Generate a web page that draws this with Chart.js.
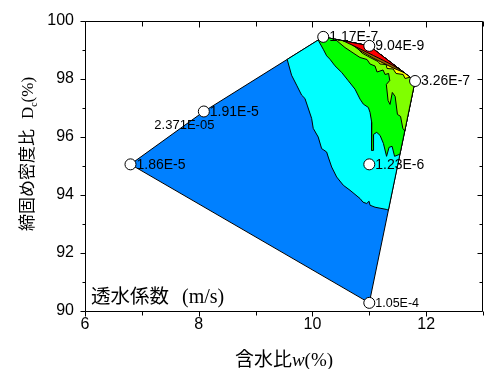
<!DOCTYPE html>
<html>
<head>
<meta charset="utf-8">
<script src="https://cdn.jsdelivr.net/npm/chart.js@4/dist/chart.umd.min.js"></script>
<style>
  html, body { margin: 0; padding: 0; background: #fff; }
</style>
</head>
<body>
<canvas id="c" width="492" height="369"></canvas>
<script>
// Test specimens: water content w (%), compaction ratio Dc (%), permeability k (m/s)
const sampleW  = [6.80, 8.09, 10.19, 11.00, 11.805, 11.00, 11.00];
const sampleDc = [95.05, 96.87, 99.44, 99.13, 97.92, 95.05, 90.28];
const sampleK  = ['1.86E-5', '1.91E-5', '1.17E-7', '9.04E-9', '3.26E-7', '1.23E-6', '1.05E-4'];

// Contour bands of k, each a closed outline in (w, Dc)
const bandBlueW  = [6.80, 8.09, 10.19, 11.00, 11.805, 11.00, 6.80];
const bandBlueDc = [95.05, 96.87, 99.44, 99.13, 97.92, 90.28, 95.05];

const bandCyanW  = [9.556, 9.633, 9.722, 9.810, 9.868, 9.908, 9.986, 10.014, 10.102, 10.162, 10.190, 10.250, 10.278, 10.338, 10.426, 10.543, 10.661, 10.837, 10.890, 10.955, 10.996, 11.013, 11.101, 11.308, 11.336, 11.805, 11.00, 10.19, 9.556];
const bandCyanDc = [98.664, 98.120, 97.777, 97.433, 97.320, 97.089, 96.632, 96.289, 95.990, 95.591, 95.557, 95.474, 95.302, 94.959, 94.615, 94.330, 94.158, 93.873, 93.746, 93.701, 93.780, 93.643, 93.574, 93.495, 93.47, 97.92, 99.13, 99.44, 98.664];

const bandGreenW  = [10.10, 10.190, 10.250, 10.308, 10.396, 10.515, 10.631, 10.749, 10.837, 10.895, 10.983, 11.013, 11.043, 11.040, 11.040, 11.066, 11.075, 11.131, 11.189, 11.248, 11.304, 11.348, 11.401, 11.445, 11.539, 11.805, 11.00, 10.19, 10.10];
const bandGreenDc = [99.33, 99.014, 98.787, 98.670, 98.443, 98.213, 97.928, 97.639, 97.296, 97.124, 97.010, 96.838, 96.495, 96.22, 95.533, 95.53, 96.082, 96.151, 96.048, 95.773, 95.326, 95.636, 95.670, 95.326, 95.40, 97.92, 99.13, 99.44, 99.33];

const bandLimeW  = [10.396, 10.573, 10.749, 10.837, 10.960, 11.013, 11.101, 11.137, 11.242, 11.278, 11.340, 11.360, 11.300, 11.330, 11.365, 11.405, 11.455, 11.495, 11.550, 11.590, 11.624, 11.805, 11.00, 10.396];
const bandLimeDc = [99.361, 99.072, 98.842, 98.729, 98.660, 98.505, 98.436, 98.230, 98.299, 98.144, 98.179, 97.938, 97.801, 97.251, 97.113, 97.526, 97.388, 96.770, 96.701, 96.289, 96.2, 97.92, 99.13, 99.361];

const bandYellowW  = [10.696, 10.872, 11.013, 11.154, 11.189, 11.295, 11.313, 11.419, 11.471, 11.595, 11.630, 11.718, 11.00, 10.696];
const bandYellowDc = [99.246, 98.883, 98.729, 98.591, 98.505, 98.488, 98.351, 98.333, 98.179, 98.144, 98.007, 98.051, 99.13, 99.246];

const bandBrownW  = [10.626, 10.837, 11.066, 11.242, 11.401, 11.612, 11.00, 10.626];
const bandBrownDc = [99.273, 98.969, 98.711, 98.540, 98.385, 98.210, 99.13, 99.273];

const bandRedW  = [10.537, 10.802, 11.071, 11.248, 11.396, 11.542, 11.00, 10.537];
const bandRedDc = [99.307, 99.06, 98.80, 98.63, 98.478, 98.315, 99.13, 99.307];

// Contour value written beside the upper-left boundary
const contourNote = '2.371E-05';

const SANS = '"Liberation Sans", Arial, sans-serif';
const SERIF = '"Liberation Serif", "Times New Roman", serif';
const CJK = '"Noto Sans CJK JP", sans-serif';

const toPts = (ws, ds) => ws.map((w, i) => ({ x: w, y: ds[i] }));

function band(ws, ds, color, order) {
  return {
    type: 'scatter',
    data: toPts(ws, ds),
    showLine: true,
    fill: false,
    tension: 0,
    borderColor: '#000',
    borderWidth: 1,
    pointRadius: 0,
    pointHoverRadius: 0,
    bandColor: color,
    order: order
  };
}

// Fills each band outline just before its border is stroked
const bandFill = {
  id: 'bandFill',
  beforeDatasetDraw(chart, args) {
    const ds = chart.data.datasets[args.index];
    if (!ds.bandColor) return;
    const pts = args.meta.data;
    const ctx = chart.ctx;
    ctx.save();
    ctx.beginPath();
    pts.forEach((p, i) => (i ? ctx.lineTo(p.x, p.y) : ctx.moveTo(p.x, p.y)));
    ctx.closePath();
    ctx.fillStyle = ds.bandColor;
    ctx.fill();
    ctx.restore();
  }
};

function drawRun(ctx, parts, x, y) {
  let cx = x;
  for (const p of parts) {
    ctx.font = p.font;
    ctx.fillText(p.text, cx, y + (p.dy || 0));
    cx += ctx.measureText(p.text).width + (p.gap || 0);
  }
}
function runWidth(ctx, parts) {
  let w = 0;
  for (const p of parts) { ctx.font = p.font; w += ctx.measureText(p.text).width + (p.gap || 0); }
  return w;
}

// Frame, tick marks, point labels and axis titles
const decorations = {
  id: 'decorations',
  afterDatasetsDraw(chart) {
    const ctx = chart.ctx;
    const a = chart.chartArea;
    const xs = chart.scales.x, ys = chart.scales.y;
    ctx.save();
    ctx.strokeStyle = '#000';
    ctx.lineWidth = 1;
    const L = Math.round(a.left) + 0.5, R = Math.round(a.right) - 0.5;
    const T = Math.round(a.top) + 0.5, B = Math.round(a.bottom) + 0.5;
    ctx.beginPath();
    ctx.rect(L, T, R - L, B - T);
    // x ticks: outward at the bottom, inward at the top
    xs.ticks.forEach(t => {
      const px = Math.round(xs.getPixelForValue(t.value)) + 0.5;
      const len = t.value % 2 === 0 ? 5 : 4;
      ctx.moveTo(px, B); ctx.lineTo(px, B + len);
      ctx.moveTo(px, T); ctx.lineTo(px, T + len + 1);
    });
    // y ticks: outward on the left, inward on the right
    ys.ticks.forEach(t => {
      const py = Math.round(ys.getPixelForValue(t.value)) + 0.5;
      const len = t.value % 2 === 0 ? 5 : 3;
      ctx.moveTo(L, py); ctx.lineTo(L - len, py);
      ctx.moveTo(R, py); ctx.lineTo(R - len, py);
    });
    ctx.stroke();

    // k values beside each specimen
    const meta = chart.getDatasetMeta(0);
    ctx.fillStyle = '#000';
    ctx.textBaseline = 'middle';
    ctx.textAlign = 'left';
    meta.data.forEach((p, i) => {
      ctx.font = (i === sampleK.length - 1 ? '12.5px ' : '14px ') + SANS;
      ctx.fillText(sampleK[i], p.x + 6, p.y + 0.5);
    });
    ctx.font = '13px ' + SANS;
    ctx.fillText(contourNote, xs.getPixelForValue(7.22), ys.getPixelForValue(96.39));

    // Legend caption inside the plot
    ctx.textBaseline = 'alphabetic';
    drawRun(ctx, [
      { text: '透水係数', font: '19.5px ' + CJK, gap: 13 },
      { text: '(m/s)', font: '20px ' + SERIF }
    ], a.left + 6, a.bottom - 8);

    // x title
    const xt = [
      { text: '含水比', font: '19px ' + CJK },
      { text: 'w', font: 'italic 19px ' + SERIF },
      { text: '(%)', font: '19px ' + SERIF }
    ];
    const xw = runWidth(ctx, xt);
    drawRun(ctx, xt, (a.left + a.right) / 2 - xw / 2, 366);

    // y title (rotated)
    const yt = [
      { text: '締固め密度比', font: '17px ' + CJK, gap: 10 },
      { text: 'D', font: '17px ' + SERIF },
      { text: 'c', font: '10px ' + SERIF, dy: 4 },
      { text: '(%)', font: '17px ' + SERIF }
    ];
    const yw = runWidth(ctx, yt);
    ctx.translate(33, 154);
    ctx.rotate(-Math.PI / 2);
    drawRun(ctx, yt, -yw / 2, 0);
    ctx.restore();
  }
};

new Chart(document.getElementById('c'), {
  data: {
    datasets: [
      {
        type: 'scatter',
        data: toPts(sampleW, sampleDc),
        pointRadius: 5.5,
        pointHoverRadius: 5.5,
        pointBackgroundColor: '#fff',
        pointBorderColor: '#000',
        pointBorderWidth: 1,
        showLine: false,
        order: 0
      },
      band(bandRedW, bandRedDc, '#ff0000', 1),
      band(bandBrownW, bandBrownDc, '#9a6400', 2),
      band(bandYellowW, bandYellowDc, '#ffff00', 3),
      band(bandLimeW, bandLimeDc, '#80ff00', 4),
      band(bandGreenW, bandGreenDc, '#00ff00', 5),
      band(bandCyanW, bandCyanDc, '#00ffff', 6),
      band(bandBlueW, bandBlueDc, '#0080ff', 7)
    ]
  },
  options: {
    responsive: false,
    animation: false,
    devicePixelRatio: 1,
    layout: { padding: { top: 20, right: 9, left: 0, bottom: 0 } },
    plugins: { legend: { display: false }, tooltip: { enabled: false } },
    scales: {
      x: {
        type: 'linear', min: 6, max: 13,
        afterFit(s) { s.height = 58; },
        grid: { display: false, drawTicks: false },
        border: { display: false },
        ticks: {
          stepSize: 1, autoSkip: false, maxRotation: 0, padding: 4, color: '#000',
          font: { family: SANS, size: 16 },
          callback: v => (v % 2 === 0 ? String(v) : '')
        }
      },
      y: {
        type: 'linear', min: 90, max: 100,
        afterFit(s) { s.width = 85; },
        grid: { display: false, drawTicks: false },
        border: { display: false },
        ticks: {
          stepSize: 1, autoSkip: false, padding: 11, color: '#000',
          font: { family: SANS, size: 16 },
          callback: v => (v % 2 === 0 ? String(v) : '')
        }
      }
    }
  },
  plugins: [bandFill, decorations]
});
</script>
</body>
</html>
